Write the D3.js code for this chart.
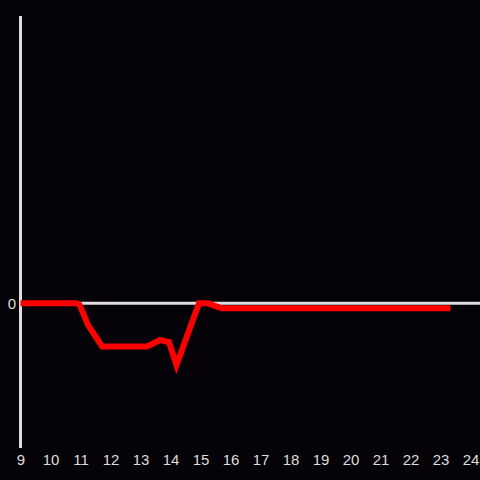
<!DOCTYPE html>
<html><head><meta charset="utf-8">
<script src="https://cdn.jsdelivr.net/npm/d3@7"></script>
<style>html,body{margin:0;padding:0;background:#050307;}svg{display:block;}</style>
</head><body>
<svg id="c" width="480" height="480"></svg>
<script>
const hours = [9, 10.85, 10.97, 11.25, 11.72, 13.22, 13.65, 13.95, 14.2, 14.95, 15.25, 15.7, 23.33];
const values = [0, 0, -0.01, -0.15, -0.3, -0.3, -0.255, -0.27, -0.43, 0, 0, -0.035, -0.035];
const xTicks = [9,10,11,12,13,14,15,16,17,18,19,20,21,22,23,24];
const yTicks = [0];

const svg = d3.select("#c");
svg.append("rect").attr("width",480).attr("height",480).attr("fill","#050307");
const x = d3.scaleLinear().domain([9,24]).range([20.5,470.5]);
const y = d3.scaleLinear().domain([-1,2]).range([447,16]);

// zero line
svg.append("line").attr("x1",x(9)).attr("x2",480).attr("y1",y(0)).attr("y2",y(0))
  .attr("stroke","#dddddd").attr("stroke-width",3);
// y axis line
svg.append("line").attr("x1",x(9)).attr("x2",x(9)).attr("y1",16).attr("y2",448)
  .attr("stroke","#dddddd").attr("stroke-width",3);

const xa = svg.append("g").attr("transform","translate(0,448)")
  .call(d3.axisBottom(x).tickValues(xTicks).tickFormat(d3.format("d")).tickSize(0).tickPadding(6));
xa.select(".domain").remove();
xa.selectAll("text").attr("fill","#dddddd").style("font-family","Liberation Sans, Arial, sans-serif").style("font-size","15px");

const ya = svg.append("g").attr("transform","translate(18,0)")
  .call(d3.axisLeft(y).tickValues(yTicks).tickFormat(d3.format("d")).tickSize(0).tickPadding(2));
ya.select(".domain").remove();
ya.selectAll("text").attr("fill","#dddddd").style("font-family","Liberation Sans, Arial, sans-serif").style("font-size","15px");

const data = hours.map((h,i)=>({h, v: values[i]}));
svg.append("path").datum(data)
  .attr("d", d3.line().x(d=>x(d.h)).y(d=>y(d.v)))
  .attr("fill","none").attr("stroke","#ff0000").attr("stroke-width",6).attr("stroke-linejoin","miter");
</script>
</body></html>
